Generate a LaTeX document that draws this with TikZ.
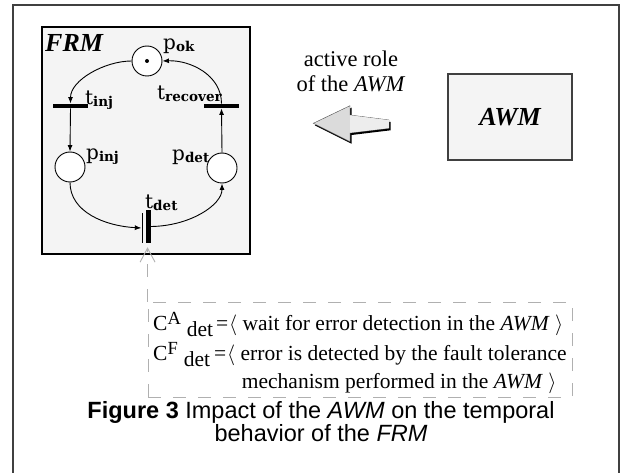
\documentclass[tikz,border=0pt]{standalone}
\usepackage{fontspec}
\setmainfont{Liberation Serif}
\newfontfamily\pnfont{DejaVu Serif}
\newfontfamily\capfont{Liberation Sans}
\usetikzlibrary{arrows.meta,calc}
\definecolor{framecol}{HTML}{404040}
\definecolor{boxfill}{HTML}{F4F4F4}
\definecolor{dashgray}{HTML}{B0B0B0}
\newcommand\pnlab[2]{{\pnfont\fontsize{20}{20}\selectfont #1\raisebox{-2pt}{\bfseries\fontsize{13.5}{13.5}\selectfont #2}}}
\newcommand\fsz[1]{\fontsize{#1}{#1}\selectfont}
\tikzset{
  place/.style={circle, draw=black, line width=0.9pt, fill=white, minimum size=30pt, inner sep=0pt},
  htrans/.style={rectangle, fill=black, minimum width=35pt, minimum height=4.5pt, inner sep=0pt},
  vtrans/.style={rectangle, fill=black, minimum width=5pt, minimum height=33pt, inner sep=0pt},
  arc/.style={line width=0.9pt, -{Latex[length=6.5pt,width=5pt]}},
  lab/.style={anchor=base west, inner sep=0pt},
  dashcon/.style={draw=dashgray, line width=0.9pt, dash pattern=on 13pt off 12pt},
  txt/.style={anchor=base west, inner sep=0pt, font=\fsz{21.5}},
  captxt/.style={anchor=base, inner sep=0pt, font=\capfont\fsz{23.5}},
}
\begin{document}
\begin{tikzpicture}[x=1pt,y=-1pt]
\useasboundingbox (0,0) rectangle (621,473);
% outer frame
\draw[framecol, line width=1.5pt] (13,473) -- (13,5) -- (619,5) -- (619,473);
% FRM box
\node[rectangle, draw=black, fill=boxfill, line width=1.1pt, minimum width=208pt, minimum height=227pt, inner sep=0pt] (frm) at (146,140.5) {};
\node[lab, font=\fsz{26}\bfseries\itshape] (frmlab) at (45,51.5) {FRM};
% places
\node[place] (pok) at (147,61) {};
\node[circle, fill=black, inner sep=0pt, minimum size=4pt] (tok) at (pok) {};
\node[place] (pinj) at (70,167) {};
\node[place] (pdet) at (222,168) {};
% transitions
\node[htrans] (tinj) at (70.5,106) {};
\node[htrans] (trec) at (221.5,106) {};
\node[vtrans] (tdet) at (148.5,226.5) {};
\node[rectangle, fill=black, minimum width=0.9pt, minimum height=30pt, inner sep=0pt] (tdetin) at (142,228) {};
% labels
\node[lab] (lpok) at (163,50) {\pnlab{p}{ok}};
\node[lab] (ltinj) at (85,105) {\pnlab{t}{inj}};
\node[lab] (ltrec) at (157,100) {\pnlab{t}{recover}};
\node[lab] (lpinj) at (86,160) {\pnlab{p}{inj}};
\node[lab] (lpdet) at (172,161) {\pnlab{p}{det}};
\node[lab] (ltdet) at (145,208) {\pnlab{t}{det}};
% arcs
\draw[arc] (pok.west) .. controls (105,61) and (70.5,80) .. (tinj.north);
\draw[arc] (tinj.south) -- (pinj.north);
\draw[arc] (pinj.south) .. controls (70,212) and (105,226) .. (tdetin.west);
\draw[arc] (tdet.east) .. controls (190,226) and (222,205) .. (pdet.south);
\draw[arc] (pdet.north) -- (trec.south);
\draw[arc] (trec.north) .. controls (221.5,75) and (190,60) .. (pok.east);
% active role
\node[anchor=base, inner sep=0pt, font=\fsz{22.5}] (act1) at (351,66.7) {active role};
\node[anchor=base, inner sep=0pt, font=\fsz{22.5}] (act2) at (351,91.7) {of the \textit{AWM}};
% big arrow
\fill[black] (314.8,125.3) -- (351.5,107.7) -- (351.5,117) -- (390.5,122) -- (390.5,130.3) -- (351.5,135) -- (351.5,143.7) -- cycle;
\filldraw[fill=black!14, draw=black!70, line width=0.4pt] (313.3,123.3) -- (350,105.7) -- (350,115) -- (389,120) -- (389,128.3) -- (350,133) -- (350,141.7) -- cycle;
\fill[black!7] (350.2,115.3) -- (388.8,120.2) -- (388.8,128.1) -- (350.2,132.7) -- cycle;
% AWM box
\node[rectangle, draw=framecol, fill=boxfill, line width=1.2pt, minimum width=124pt, minimum height=86pt, inner sep=0pt, font=\fsz{26}\bfseries\itshape] (awm) at (510,117) {AWM};
% condition box
\node[rectangle, dashcon, minimum width=424pt, minimum height=95pt, inner sep=0pt] (cbox) at (360,349.5) {};
\draw[dashcon, -{Straight Barb[length=14pt,width=15pt]}] (cbox.north west) -- ($(cbox.north west |- tdet.south)+(0,4)$);
% condition texts
\node[txt] (c1) at (153,330) {C\raisebox{6pt}{\fsz{18.5}A}\hspace{6pt}\raisebox{-6pt}{det}};
\node[txt] (eq1) at (216,330) {=};
\node[txt] (r1) at (229,330) {$\langle$\ wait for error detection in the \textit{AWM}\ $\rangle$};
\node[txt] (c2) at (153,360) {C\raisebox{6pt}{\fsz{18.5}F}\hspace{6pt}\raisebox{-6pt}{det}};
\node[txt] (eq2) at (214,360) {=};
\node[txt] (r2) at (227,360) {$\langle$\ error is detected by the fault tolerance};
\node[txt] (r3) at (241.7,388) {mechanism performed in the \textit{AWM}\ $\rangle$};
% caption
\node[captxt] (cap1) at (321,418) {\textbf{Figure 3} Impact of the \textit{AWM} on the temporal};
\node[captxt] (cap2) at (321,441) {behavior of the \textit{FRM}};
\end{tikzpicture}
\end{document}
